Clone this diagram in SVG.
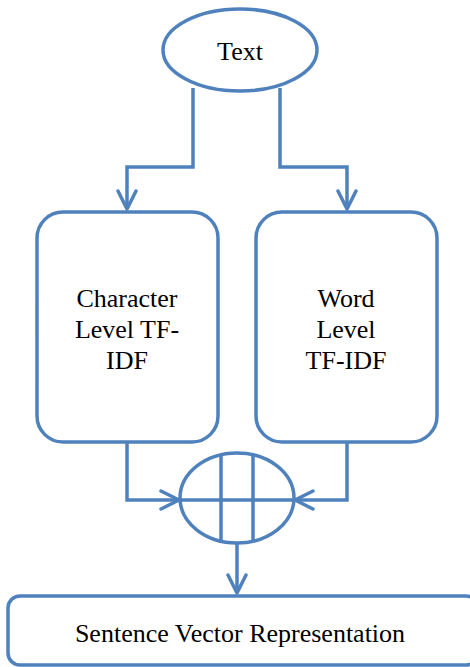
<svg xmlns="http://www.w3.org/2000/svg" width="470" height="667" viewBox="0 0 470 667">
<defs>
<marker id="arr" viewBox="0 0 22 22" refX="20" refY="11" markerWidth="22" markerHeight="22" markerUnits="userSpaceOnUse" orient="auto">
<path d="M2,2 L20,11 L2,20" fill="none" stroke="#4F81BD" stroke-width="3.5" stroke-linecap="round" stroke-linejoin="round"/>
</marker>
</defs>
<style>
.s{fill:#fff;stroke:#4F81BD;stroke-width:3.5}
.c{fill:none;stroke:#4F81BD;stroke-width:3.5}
text{font-family:'Liberation Serif','Times New Roman',Times,serif;font-size:26px;fill:#000;text-anchor:middle}
</style>
<g id="connectors">
<path class="c" d="M193,88 V167 H127 V209" marker-end="url(#arr)"/>
<path class="c" d="M280,88 V167 H347 V209" marker-end="url(#arr)"/>
<path class="c" d="M127,442 V500 H179" marker-end="url(#arr)"/>
<path class="c" d="M347,442 V500 H295" marker-end="url(#arr)"/>
<path class="c" d="M237,543 V593" marker-end="url(#arr)"/>
</g>
<g id="text-node">
<ellipse class="s" cx="240" cy="50" rx="77" ry="41"/>
<text x="240" y="60" font-family="Liberation Serif, serif">Text</text>
</g>
<g id="char-tfidf">
<rect class="s" x="37" y="212" width="181" height="230" rx="26"/>
<text x="127" y="307" font-family="Liberation Serif, serif">Character</text>
<text x="127" y="338" font-family="Liberation Serif, serif">Level TF-</text>
<text x="127" y="369" font-family="Liberation Serif, serif">IDF</text>
</g>
<g id="word-tfidf">
<rect class="s" x="256" y="212" width="181" height="230" rx="26"/>
<text x="346" y="307" font-family="Liberation Serif, serif">Word</text>
<text x="346" y="338" font-family="Liberation Serif, serif">Level</text>
<text x="346" y="369" font-family="Liberation Serif, serif">TF-IDF</text>
</g>
<g id="concat">
<ellipse class="s" cx="237" cy="498" rx="57" ry="45"/>
<line class="c" x1="180" y1="500" x2="294" y2="500"/>
<line class="c" x1="221" y1="455" x2="221" y2="541"/>
<line class="c" x1="253" y1="455" x2="253" y2="541"/>
</g>
<g id="sentence-vector">
<rect class="s" x="8" y="596" width="470" height="69" rx="12"/>
<text x="240" y="642" font-family="Liberation Serif, serif">Sentence Vector Representation</text>
</g>
</svg>
